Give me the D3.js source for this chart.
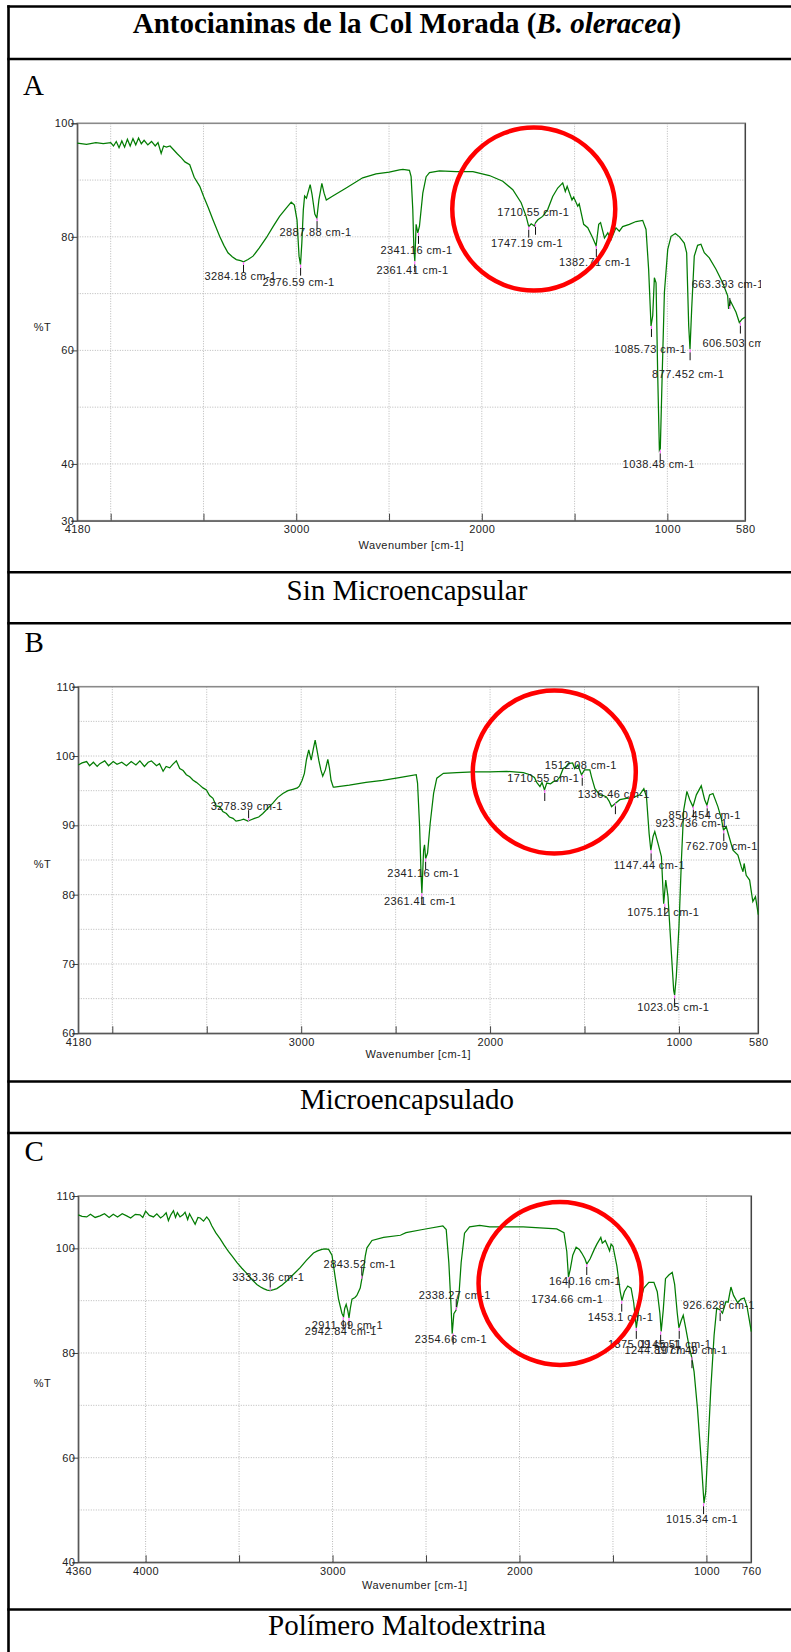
<!DOCTYPE html>
<html>
<head>
<meta charset="utf-8">
<script src="https://cdn.jsdelivr.net/npm/d3@7"></script>
<style>
  body { margin: 0; background: #fff; }
  .cell { font-family: "Liberation Serif", "Times New Roman", serif; font-size: 29px; fill: #000; }
  .spec text { font-family: "Liberation Sans", Arial, sans-serif; font-size: 11px; fill: #222; letter-spacing: 0.4px; }
</style>
</head>
<body>
<script>
// --- spectrum A : Sin Microencapsular  [wavenumber, %T]
var specA = [
  [4180,96.5],[4130,96.3],[4080,96.6],[4040,96.4],[4000,96.6],[3985,96.0],[3970,96.8],[3955,95.7],
  [3940,96.9],[3925,95.8],[3910,97.2],[3895,96.0],[3880,97.3],[3865,96.2],[3850,97.4],[3835,96.4],
  [3820,97.0],[3800,96.2],[3780,96.8],[3760,96.0],[3745,96.6],[3728,94.7],[3715,96.0],[3700,95.8],
  [3680,96.0],[3660,95.3],[3640,94.6],[3619,93.9],[3600,93.2],[3574,92.7],[3550,90.5],[3520,88.9],
  [3499,87.1],[3475,85.2],[3449,83.0],[3413,80.1],[3390,78.5],[3368,77.2],[3345,76.5],[3323,76.0],
  [3300,75.8],[3284,75.6],[3260,76.0],[3233,76.6],[3200,78.0],[3162,79.8],[3125,81.8],[3090,83.6],
  [3055,85.0],[3027,86.1],[3010,85.6],[2996,83.0],[2985,76.6],[2977,75.1],[2970,78.9],[2962,84.7],
  [2955,87.2],[2945,86.8],[2925,89.2],[2915,87.5],[2900,84.0],[2889,83.3],[2878,86.5],[2862,89.4],
  [2850,87.7],[2838,86.5],[2803,87.2],[2731,88.6],[2642,90.4],[2570,91.1],[2499,91.4],[2444,91.8],
  [2425,91.9],[2390,91.7],[2381,90.6],[2372,84.8],[2366,77.8],[2361,75.7],[2354,82.2],[2345,80.7],
  [2336,81.9],[2318,87.7],[2300,90.6],[2282,91.3],[2228,91.6],[2138,91.5],[2048,91.5],[1959,90.8],
  [1887,89.8],[1833,88.3],[1788,86.0],[1761,83.6],[1747,81.8],[1734,82.3],[1716,81.9],[1710,82.5],
  [1698,83.0],[1672,83.6],[1645,84.8],[1618,87.1],[1591,88.6],[1564,89.5],[1550,88.0],[1540,88.9],
  [1525,87.5],[1514,86.5],[1505,87.0],[1483,85.4],[1475,85.8],[1451,82.2],[1429,81.6],[1402,79.8],
  [1384,78.4],[1370,82.2],[1360,82.5],[1339,79.8],[1321,80.7],[1304,79.5],[1277,81.6],[1259,81.0],
  [1241,81.8],[1205,82.2],[1169,82.7],[1133,82.9],[1115,81.3],[1101,74.3],[1088,64.3],[1079,66.1],
  [1070,72.8],[1061,71.9],[1052,55.6],[1043,42.4],[1038,42.7],[1028,55.6],[1016,70.2],[998,77.8],
  [980,80.1],[957,80.6],[935,80.0],[909,78.9],[896,77.2],[885,64.3],[878,60.2],[869,67.3],
  [855,76.6],[837,78.5],[819,78.7],[801,77.2],[774,76.3],[738,74.3],[702,71.9],[675,69.6],
  [670,67.3],[660,68.7],[630,66.7],[612,64.9],[598,65.5],[584,65.8],[580,65.8]
];
// [peak wavenumber, peak %T, label wavenumber, label %T, text]
var peaksA = [
  [3284.18,75.6,3300,73.1,"3284.18 cm-1"],[2976.59,75.1,2988,72.1,"2976.59 cm-1"],
  [2887.88,83.3,2896,80.8,"2887.88 cm-1"],[2341.16,80.7,2352,77.6,"2341.16 cm-1"],
  [2361.41,75.7,2373,74.2,"2361.41 cm-1"],[1710.55,82.3,1723,84.3,"1710.55 cm-1"],
  [1747.19,81.8,1756,78.9,"1747.19 cm-1"],[1382.71,78.4,1390,75.5,"1382.71 cm-1"],
  [1085.73,64.3,1092,60.3,"1085.73 cm-1"],[877.452,60.2,888,55.8,"877.452 cm-1"],
  [1038.48,42.4,1047,39.9,"1038.48 cm-1"],[663.393,67.3,675,71.7,"663.393 cm-1"],
  [606.503,64.9,616,61.3,"606.503 cm-1"]
];

// --- spectrum B : Microencapsulado
var specB = [
  [4180,98.7],[4160,99.0],[4136,99.2],[4120,98.6],[4100,99.1],[4080,98.5],[4066,98.9],[4040,99.3],
  [4020,98.6],[3995,99.2],[3975,98.8],[3950,99.1],[3925,98.6],[3900,99.2],[3875,98.7],[3854,99.3],
  [3830,98.5],[3810,99.1],[3793,99.3],[3766,98.6],[3750,98.9],[3731,97.8],[3715,98.5],[3696,98.3],
  [3680,98.8],[3661,99.3],[3643,98.2],[3625,97.9],[3608,97.3],[3590,97.0],[3572,96.5],[3555,96.2],
  [3537,95.8],[3520,95.4],[3502,95.1],[3485,94.3],[3467,93.9],[3450,92.8],[3431,92.7],[3415,92.0],
  [3396,91.7],[3380,91.2],[3361,91.0],[3345,90.6],[3326,90.7],[3305,90.9],[3282,90.6],[3265,90.8],
  [3247,91.0],[3225,91.2],[3203,91.7],[3175,92.5],[3150,93.2],[3125,94.0],[3097,94.6],[3070,95.0],
  [3044,95.2],[3020,95.4],[3009,95.7],[2995,96.5],[2983,97.5],[2972,99.5],[2960,100.9],[2947,99.4],
  [2936,101.0],[2926,102.3],[2916,100.8],[2907,99.4],[2896,98.0],[2886,97.1],[2872,98.0],[2859,99.5],
  [2850,98.2],[2842,96.5],[2830,95.5],[2824,95.5],[2745,95.8],[2657,96.2],[2569,96.5],[2481,96.9],
  [2458,97.0],[2391,97.3],[2384,96.1],[2373,89.8],[2365,82.6],[2361,80.2],[2352,86.4],[2347,87.2],
  [2341,85.2],[2331,86.0],[2317,90.3],[2299,94.6],[2282,96.8],[2247,97.5],[2176,97.6],[2088,97.7],
  [2000,97.7],[1912,97.8],[1824,97.6],[1789,97.3],[1765,96.9],[1753,96.2],[1736,95.6],[1725,96.2],
  [1712,95.1],[1700,96.1],[1680,96.0],[1665,96.3],[1645,96.5],[1630,97.0],[1613,98.2],[1600,98.4],
  [1586,98.9],[1563,99.0],[1552,98.2],[1535,98.7],[1516,97.3],[1500,98.0],[1472,98.0],[1463,97.0],
  [1445,95.3],[1419,94.4],[1400,94.3],[1384,94.1],[1370,93.5],[1357,92.7],[1336,93.2],[1313,93.7],
  [1278,93.9],[1243,94.0],[1208,94.4],[1186,95.3],[1172,94.1],[1158,88.8],[1149,86.4],[1137,88.4],
  [1128,89.1],[1111,87.4],[1093,85.5],[1081,78.7],[1070,82.1],[1058,79.7],[1040,71.5],[1028,66.2],
  [1023,65.5],[1014,68.2],[1000,75.4],[987,85.0],[975,92.2],[958,94.9],[943,93.7],[926,92.7],
  [908,94.4],[882,95.7],[864,93.7],[852,92.9],[838,94.4],[820,94.6],[794,92.7],[776,91.0],
  [764,89.3],[750,89.8],[714,86.4],[688,85.7],[670,84.0],[661,83.3],[655,84.5],[644,82.8],
  [626,82.1],[609,79.0],[595,79.7],[580,77.1]
];
var peaksB = [
  [3278.39,90.6,3288,92.7,"3278.39 cm-1"],[2341.16,85.2,2353,83.1,"2341.16 cm-1"],
  [2361.41,80.2,2371,79.1,"2361.41 cm-1"],[1512.08,97.3,1520,98.7,"1512.08 cm-1"],
  [1710.55,95.1,1718,96.8,"1710.55 cm-1"],[1336.46,93.2,1345,94.5,"1336.46 cm-1"],
  [850.454,92.9,864,91.5,"850.454 cm-1"],[923.736,92.7,933,90.3,"923.736 cm-1"],
  [762.709,89.3,774,87.0,"762.709 cm-1"],[1147.44,86.4,1157,84.2,"1147.44 cm-1"],
  [1075.12,78.7,1083,77.5,"1075.12 cm-1"],[1023.05,65.5,1030,63.8,"1023.05 cm-1"]
];

// --- spectrum C : Polimero Maltodextrina
var specC = [
  [4360,106.4],[4340,106.1],[4315,106.0],[4295,106.5],[4270,105.9],[4244,106.2],[4220,106.6],[4195,105.9],
  [4173,106.5],[4150,106.0],[4125,106.6],[4101,106.2],[4080,105.8],[4055,106.5],[4030,106.4],[4015,105.9],
  [4000,107.1],[3980,106.3],[3958,106.0],[3940,106.6],[3920,105.8],[3905,106.2],[3890,106.8],[3878,105.3],
  [3865,106.4],[3851,107.2],[3840,105.9],[3830,106.8],[3816,106.0],[3800,106.4],[3789,106.9],[3775,105.5],
  [3765,106.6],[3753,105.8],[3735,104.6],[3720,105.9],[3708,105.8],[3690,105.2],[3673,106.0],[3660,105.4],
  [3646,104.3],[3625,103.0],[3601,101.8],[3580,100.6],[3557,99.4],[3535,98.4],[3512,97.3],[3485,96.2],
  [3459,95.2],[3430,94.0],[3405,93.1],[3385,92.6],[3369,92.3],[3350,92.0],[3334,91.9],[3315,92.1],
  [3298,92.3],[3270,93.0],[3244,93.8],[3210,95.0],[3173,96.3],[3140,97.7],[3102,99.1],[3080,99.5],
  [3057,99.8],[3040,99.9],[3021,99.8],[3003,98.7],[2986,94.5],[2968,90.3],[2950,87.6],[2941,86.9],
  [2935,88.5],[2927,89.3],[2918,88.0],[2912,86.7],[2905,88.5],[2896,90.3],[2880,90.6],[2870,91.0],
  [2852,92.4],[2843,94.2],[2834,95.9],[2825,98.5],[2816,100.1],[2789,101.5],[2727,102.1],[2637,102.5],
  [2607,103.0],[2518,103.6],[2410,104.3],[2392,103.6],[2378,97.3],[2366,88.9],[2360,83.7],[2351,87.5],
  [2339,88.2],[2324,91.0],[2312,97.3],[2294,102.9],[2267,104.1],[2213,104.4],[2159,104.1],[2070,104.1],
  [1980,104.1],[1891,103.9],[1801,103.7],[1762,103.0],[1747,99.4],[1738,94.5],[1729,95.9],[1715,98.7],
  [1697,100.2],[1680,99.8],[1667,99.1],[1650,98.0],[1640,97.0],[1622,98.0],[1600,99.8],[1586,100.8],
  [1565,102.1],[1557,101.0],[1550,101.2],[1541,101.5],[1530,100.6],[1518,99.5],[1510,100.8],[1500,100.4],
  [1479,96.6],[1461,91.7],[1452,90.0],[1439,91.7],[1421,92.8],[1403,92.4],[1389,89.6],[1375,84.8],
  [1357,89.6],[1335,92.4],[1308,93.5],[1281,93.5],[1263,91.7],[1249,87.6],[1242,84.1],[1231,88.2],
  [1219,94.2],[1201,94.9],[1183,95.4],[1170,93.1],[1156,87.6],[1147,84.8],[1135,86.2],[1124,87.2],
  [1111,84.8],[1093,81.3],[1079,79.2],[1066,76.4],[1048,69.4],[1027,59.0],[1013,51.3],[1004,53.4],
  [991,62.5],[977,72.9],[959,83.4],[945,88.6],[927,88.2],[914,87.6],[896,89.8],[884,89.7],
  [869,92.6],[855,91.0],[833,89.6],[815,90.3],[798,90.5],[783,88.9],[760,84.1]
];
var peaksC = [
  [3333.36,91.9,3344,94.4,"3333.36 cm-1"],[2843.52,94.2,2855,97.0,"2843.52 cm-1"],
  [2911.99,86.7,2921,85.3,"2911.99 cm-1"],[2942.84,86.9,2956,84.2,"2942.84 cm-1"],
  [2338.27,88.2,2346,91.0,"2338.27 cm-1"],[2354.66,83.7,2367,82.7,"2354.66 cm-1"],
  [1640.16,97.0,1650,93.8,"1640.16 cm-1"],[1734.66,94.5,1745,90.3,"1734.66 cm-1"],
  [1453.1,90.0,1460,86.9,"1453.1 cm-1"],[1375.09,84.8,1334,81.7,"1375.09 cm-1"],
  [1145.51,84.8,1165,81.7,"1145.51 cm-1"],[1244.89,84.1,1246,80.6,"1244.89 cm-1"],
  [1077.49,79.2,1080,80.6,"1077.49 cm-1"],[926.628,88.2,934,89.1,"926.628 cm-1"],
  [1015.34,51.3,1024,48.2,"1015.34 cm-1"]
];

// axis ticks / grids
var xLabelsAB = [4180, 3000, 2000, 1000, 580];
var xLabelsC = [4360, 4000, 3000, 2000, 1000, 760];
var xGrid = [4000, 3500, 3000, 2500, 2000, 1500, 1000];
var yLabelsA = [100, 80, 60, 40, 30];
var yGridA = [90, 80, 70, 60, 50, 40];
var yLabelsB = [110, 100, 90, 80, 70, 60];
var yGridB = [105, 100, 95, 90, 85, 80, 75, 70, 65];
var yLabelsC = [110, 100, 80, 60, 40];
var yGridC = [100, 90, 80, 70, 60, 50];
// highlighted region (centre in wavenumber, %T)
var circleA = [1720, 84.9];
var circleB = [1660, 97.7];
var circleC = [1783, 93.3];

var W = 791, H = 1652;
var svg = d3.select("body").append("svg").attr("width", W).attr("height", H);

// ---- table frame
var TABLE_LEFT = 8.5, TABLE_RIGHT = 808, MID = 407;
var rowLines = [6.5, 59, 572.3, 623.3, 1081.5, 1133, 1609.5];
svg.selectAll(".hline").data(rowLines).enter().append("line")
  .attr("x1", TABLE_LEFT - 1.2).attr("x2", TABLE_RIGHT)
  .attr("y1", function(d) { return d; }).attr("y2", function(d) { return d; })
  .attr("stroke", "#000").attr("stroke-width", 2.6);
svg.append("line").attr("x1", TABLE_LEFT).attr("x2", TABLE_LEFT)
  .attr("y1", 5.2).attr("y2", H).attr("stroke", "#000").attr("stroke-width", 2.6);

var title = svg.append("text").attr("class", "cell").attr("x", MID).attr("y", 33.3)
  .attr("text-anchor", "middle").attr("font-weight", "bold");
title.append("tspan").text("Antocianinas de la Col Morada (");
title.append("tspan").attr("font-style", "italic").text("B. oleracea");
title.append("tspan").text(")");

var captions = [["Sin Microencapsular", 600], ["Microencapsulado", 1108.7], ["Polímero Maltodextrina", 1635]];
svg.selectAll(".cap").data(captions).enter().append("text").attr("class", "cell")
  .attr("x", MID).attr("y", function(d) { return d[1]; })
  .attr("text-anchor", "middle").text(function(d) { return d[0]; });

var letters = [["A", 23, 95], ["B", 24.5, 652.3], ["C", 24.5, 1161]];
svg.selectAll(".let").data(letters).enter().append("text").attr("class", "cell")
  .attr("x", function(d) { return d[1]; }).attr("y", function(d) { return d[2]; })
  .text(function(d) { return d[0]; });

var drawSpectrum = function(cfg, idx) {
  var x = d3.scaleLinear().domain(cfg.xDomain).range([cfg.left, cfg.right]);
  var y = d3.scaleLinear().domain(cfg.yDomain).range([cfg.bottom, cfg.top]);
  var g = svg.append("g").attr("class", "spec");

  // dotted grid
  g.selectAll(".vg").data(cfg.xGrid).enter().append("line")
    .attr("x1", function(d) { return x(d); }).attr("x2", function(d) { return x(d); })
    .attr("y1", cfg.top).attr("y2", cfg.bottom)
    .attr("stroke", "#b8b8b8").attr("stroke-dasharray", "1,1.5");
  g.selectAll(".hg").data(cfg.yGrid).enter().append("line")
    .attr("x1", cfg.left).attr("x2", cfg.right)
    .attr("y1", function(d) { return y(d); }).attr("y2", function(d) { return y(d); })
    .attr("stroke", "#b8b8b8").attr("stroke-dasharray", "1,1.5");

  // frame
  g.append("rect").attr("x", cfg.left).attr("y", cfg.top)
    .attr("width", cfg.right - cfg.left).attr("height", cfg.bottom - cfg.top)
    .attr("fill", "none").attr("stroke", "#8a8a8a").attr("stroke-width", 1.6);
  g.append("line").attr("x1", cfg.right).attr("x2", cfg.right)
    .attr("y1", cfg.top).attr("y2", cfg.bottom).attr("stroke", "#333");

  // axes
  var yAxis = g.append("g").attr("transform", "translate(" + cfg.left + ",0)")
    .call(d3.axisLeft(y).tickValues(cfg.yLabels).tickSize(6).tickPadding(-3).tickFormat(d3.format("d")));
  yAxis.select(".domain").attr("stroke", "#444");
  yAxis.selectAll(".tick line").attr("stroke", "#444");
  yAxis.selectAll("text").attr("x", -3);

  var xAxis = g.append("g").attr("transform", "translate(0," + cfg.bottom + ")")
    .call(d3.axisBottom(x).tickValues(cfg.xLabels).tickSize(0).tickPadding(5).tickFormat(d3.format("d")));
  xAxis.select(".domain").attr("stroke", "#444");
  xAxis.selectAll("text").attr("fill", "#222");
  var xTicks = g.append("g").attr("transform", "translate(0," + cfg.bottom + ")")
    .call(d3.axisBottom(x).tickValues(cfg.xGrid).tickSize(-7).tickFormat(""));
  xTicks.select(".domain").remove();
  xTicks.selectAll(".tick line").attr("stroke", "#444");

  g.append("text").attr("x", 42.5).attr("y", (cfg.top + cfg.bottom) / 2 + cfg.tOffset)
    .attr("text-anchor", "middle").attr("dy", "0.35em").text("%T");
  g.append("text").attr("x", (cfg.left + cfg.right) / 2).attr("y", cfg.bottom + cfg.xTitleGap)
    .attr("text-anchor", "middle").attr("dy", "0.35em").text("Wavenumber [cm-1]");

  // spectrum
  var line = d3.line().x(function(d) { return x(d[0]); }).y(function(d) { return y(d[1]); });
  g.append("path").datum(cfg.spec).attr("d", line)
    .attr("fill", "none").attr("stroke", "#037c03").attr("stroke-width", 1.25);

  // peak picks
  var clipId = "clip" + idx;
  svg.append("clipPath").attr("id", clipId).append("rect")
    .attr("x", 0).attr("y", cfg.top - 20).attr("width", cfg.clipRight).attr("height", cfg.bottom - cfg.top + 40);
  var pk = g.append("g").attr("clip-path", "url(#" + clipId + ")");
  var dir = function(d) { return d[3] > d[1] + 2 ? -1 : 1; };
  pk.selectAll(".tk").data(cfg.peaks).enter().append("line")
    .attr("x1", function(d) { return x(d[0]); }).attr("x2", function(d) { return x(d[0]); })
    .attr("y1", function(d) { return y(d[1]) + dir(d) * 3; })
    .attr("y2", function(d) { return y(d[1]) + dir(d) * 11; })
    .attr("stroke", "#111").attr("stroke-width", 1);
  pk.selectAll(".pk").data(cfg.peaks).enter().append("line")
    .attr("x1", function(d) { return x(d[0]); }).attr("x2", function(d) { return x(d[0]); })
    .attr("y1", function(d) { return y(d[1]); })
    .attr("y2", function(d) { return y(d[1]) + dir(d) * 3; })
    .attr("stroke", "#ff66ff").attr("stroke-width", 1.2);
  pk.selectAll(".lb").data(cfg.peaks).enter().append("text")
    .attr("x", function(d) { return x(d[2]); }).attr("y", function(d) { return y(d[3]); })
    .attr("text-anchor", "middle").attr("dy", "0.35em")
    .text(function(d) { return d[4]; });

  // red highlight circle
  g.append("circle").attr("cx", x(cfg.circle[0])).attr("cy", y(cfg.circle[1])).attr("r", 81.5)
    .attr("fill", "none").attr("stroke", "#f00").attr("stroke-width", 4.5);
};

var charts = [
  { spec: specA, peaks: peaksA, xDomain: [4180, 580], yDomain: [30, 100],
    left: 77.3, right: 745.3, top: 123.3, bottom: 520.7, clipRight: 761,
    xLabels: xLabelsAB, xGrid: xGrid, yLabels: yLabelsA, yGrid: yGridA,
    circle: circleA, tOffset: 5.5, xTitleGap: 24.3 },
  { spec: specB, peaks: peaksB, xDomain: [4180, 580], yDomain: [60, 110],
    left: 78.3, right: 758.3, top: 686.7, bottom: 1033.3, clipRight: 791,
    xLabels: xLabelsAB, xGrid: xGrid, yLabels: yLabelsB, yGrid: yGridB,
    circle: circleB, tOffset: 4, xTitleGap: 21 },
  { spec: specC, peaks: peaksC, xDomain: [4360, 760], yDomain: [40, 110],
    left: 78.3, right: 751.3, top: 1196, bottom: 1562.3, clipRight: 791,
    xLabels: xLabelsC, xGrid: xGrid, yLabels: yLabelsC, yGrid: yGridC,
    circle: circleC, tOffset: 4, xTitleGap: 22.5 }
];
charts.forEach(drawSpectrum);
</script>
</body>
</html>
